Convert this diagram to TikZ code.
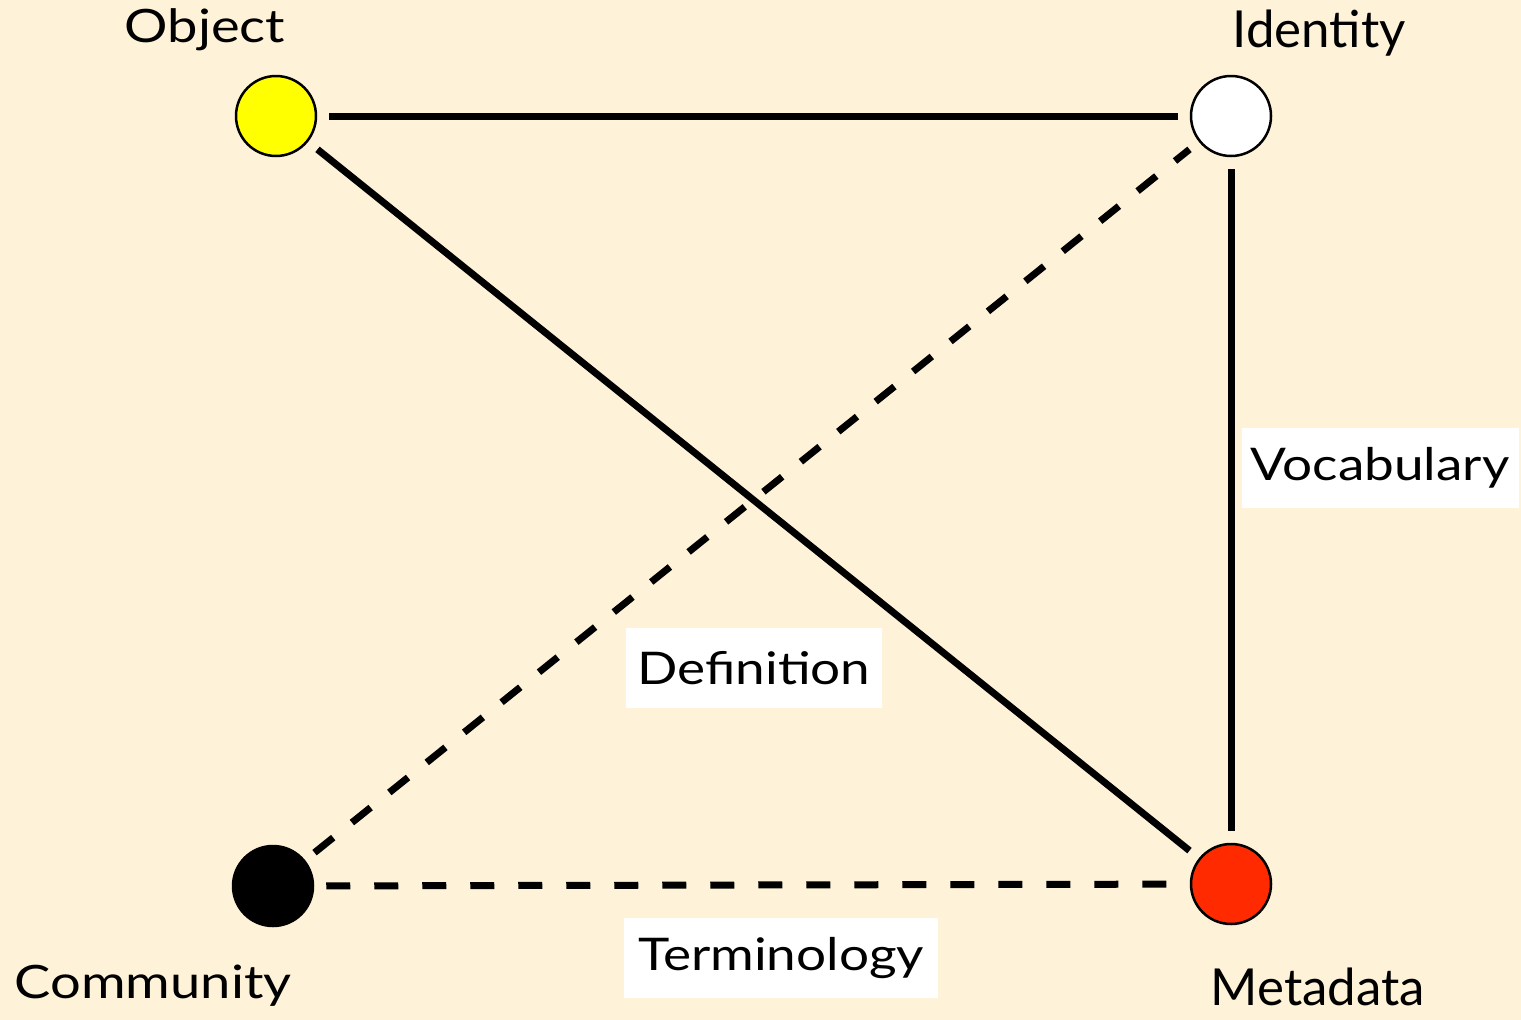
\documentclass[tikz,border=0pt]{standalone}
\usepackage{fontspec}
\setmainfont[FakeStretch=1.18]{Lato}
\newfontfamily\plainlato{Lato}
\definecolor{bgcol}{HTML}{FEF3D8}
\definecolor{objyellow}{HTML}{FFFF00}
\definecolor{metared}{HTML}{FF2A00}
\begin{document}
\begin{tikzpicture}[x=1pt,y=-1pt,
  vertex/.style={circle,draw=black,line width=2.5pt,minimum size=80pt,inner sep=0pt},
  captionA/.style={font=\fontsize{46}{50}\selectfont,anchor=base},
  captionB/.style={font=\plainlato\fontsize{51}{56}\selectfont,anchor=base},
  edgelabel/.style={fill=white,font=\fontsize{45}{50}\selectfont,minimum height=80pt,inner xsep=8pt},
  link/.style={line width=7pt,shorten >=12pt,shorten <=12pt},
  dlink/.style={link,dash pattern=on 24pt off 24pt}]
\fill[bgcol] (0,0) rectangle (1521,1020);
\useasboundingbox (0,0) rectangle (1521,1020);
\node[vertex,fill=objyellow] (obj) at (276,116) {};
\node[vertex,fill=white] (ide) at (1231,116) {};
\node[vertex,fill=metared] (met) at (1231,884) {};
\node[vertex,fill=black] (com) at (273,886) {};
\draw[link] (obj) -- (ide);
\draw[link] (obj) -- (met);
\draw[link] (ide) -- (met);
\draw[dlink] (com) -- (ide);
\draw[dlink] (com) -- (met);
\node[captionA] (lobj) at (205,42) {Object};
\node[captionB] (lide) at (1319,47) {Identity};
\node[captionA] (lcom) at (153,998) {Community};
\node[captionB] (lmet) at (1318,1005) {Metadata};
\node[edgelabel,minimum width=277pt] (lvoc) at (1380,468) {Vocabulary};
\node[edgelabel,minimum width=256pt] (ldef) at (754,668) {Definition};
\node[edgelabel,minimum width=314pt] (lter) at (781,958) {Terminology};
\end{tikzpicture}
\end{document}
